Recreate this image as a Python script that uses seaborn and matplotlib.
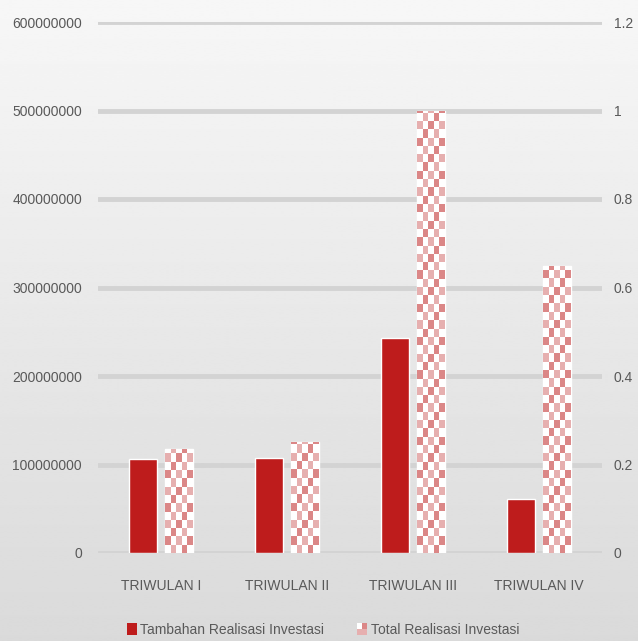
import numpy as np
import pandas as pd
import matplotlib
matplotlib.use('Agg')
import matplotlib.pyplot as plt
import seaborn as sns
from matplotlib.patches import Patch, Rectangle
from matplotlib.legend_handler import HandlerBase
from matplotlib.ticker import FuncFormatter

# ---------------- data ----------------
categories = ['TRIWULAN I', 'TRIWULAN II', 'TRIWULAN III', 'TRIWULAN IV']
tambahan = [106000000, 107000000, 243000000, 61000000]      # left axis
total = [0.235, 0.251, 1.0, 0.649]                          # right axis
series_names = ['Tambahan Realisasi Investasi', 'Total Realisasi Investasi']
left_ticks = [0, 100000000, 200000000, 300000000, 400000000, 500000000, 600000000]
right_ticks = [0, 0.2, 0.4, 0.6, 0.8, 1.0, 1.2]

# ---------------- style ----------------
sns.set_theme(style='white')
FONT = ['Liberation Sans', 'DejaVu Sans']
plt.rcParams['font.family'] = FONT
TXT = '#595959'
RED = '#BE1C1C'
DARK_PINK = '#DB8787'
LIGHT_PINK = '#E6AFAF'
FS = 10

W, H = 638, 641
fig = plt.figure(figsize=(W / 100, H / 100), dpi=100)

# background gradient
bg = fig.add_axes([0, 0, 1, 1], zorder=-10)
grad = np.linspace(0.968, 0.855, 256)[:, None]
bg.imshow(grad, cmap='gray', vmin=0, vmax=1, aspect='auto',
          extent=(0, 1, 0, 1), origin='upper', interpolation='bilinear')
bg.axis('off')

ax_l, ax_b, ax_w, ax_h = 98, 553, 504, 531
ax = fig.add_axes([ax_l / W, 1 - ax_b / H, ax_w / W, ax_h / H])
ax.patch.set_alpha(0)

scale = left_ticks[-1] / right_ticks[-1]
df = pd.DataFrame({
    'cat': categories * 2,
    'series': [series_names[0]] * len(categories) + [series_names[1]] * len(categories),
    'val': tambahan + [t * scale for t in total],
})
sns.barplot(data=df, x='cat', y='val', hue='series', hue_order=series_names,
            palette=[RED, 'white'], width=0.572, gap=0.224, saturation=1,
            errorbar=None, legend=False, ax=ax)

ax.set_xlim(-0.5, len(categories) - 0.5)
ax.set_ylim(left_ticks[0], left_ticks[-1])

# checker fill for total bars
cw_px, ch_px = 5.5, 8.3
sx = cw_px * len(categories) / ax_w
sy = ch_px * (left_ticks[-1] - left_ticks[0]) / ax_h
dark = np.array(matplotlib.colors.to_rgb(DARK_PINK))
light = np.array(matplotlib.colors.to_rgb(LIGHT_PINK))
white = np.array([1.0, 1.0, 1.0])
for p in ax.containers[1]:
    x0, h, w = p.get_x(), p.get_height(), p.get_width()
    ncol = int(np.ceil(w / sx)) + 1
    nrow = int(np.ceil(h / sy)) + 1
    arr = np.zeros((nrow, ncol, 3))
    for i in range(nrow):
        for j in range(ncol):
            if (i + j) % 2 == 0:
                arr[i, j] = white
            else:
                arr[i, j] = dark if (i - j) % 4 == 1 else light
    im = ax.imshow(arr, extent=(x0, x0 + ncol * sx, 0, nrow * sy), origin='lower',
                   interpolation='nearest', aspect='auto', zorder=2)
    im.set_clip_path(p)
ax.set_xlim(-0.5, len(categories) - 0.5)
ax.set_ylim(left_ticks[0], left_ticks[-1])

# axes styling
ax.set_yticks(left_ticks)
ax.yaxis.set_major_formatter(FuncFormatter(lambda v, _: f'{int(round(v))}'))
ax.grid(axis='y', color='#d3d3d3', linewidth=3.5)
ax.grid(axis='x', visible=False)
ax.set_axisbelow(True)
for s in ax.spines.values():
    s.set_visible(False)
ax.tick_params(axis='y', length=0, pad=11.5, labelsize=FS, labelcolor=TXT)
ax.tick_params(axis='x', length=0, pad=19, labelsize=FS, labelcolor=TXT)
ax.set_xlabel('')
ax.set_ylabel('')

ax2 = ax.twinx()
ax2.patch.set_visible(False)
ax2.set_ylim(right_ticks[0], right_ticks[-1])
ax2.set_yticks(right_ticks)
ax2.yaxis.set_major_formatter(FuncFormatter(lambda v, _: f'{v:g}'))
ax2.grid(False)
for s in ax2.spines.values():
    s.set_visible(False)
ax2.tick_params(axis='y', length=0, pad=8.6, labelsize=FS, labelcolor=TXT)


# legend
class CheckerHandler(HandlerBase):
    def create_artists(self, legend, orig_handle, xdescent, ydescent, width, height,
                       fontsize, trans):
        cw, ch = width / 2, height / 2
        cols = [[LIGHT_PINK, LIGHT_PINK], ['white', DARK_PINK]]
        arts = []
        for r in range(2):
            for c in range(2):
                arts.append(Rectangle((-xdescent + c * cw, -ydescent + r * ch), cw, ch,
                                      facecolor=cols[r][c], edgecolor='none',
                                      transform=trans))
        return arts


class CheckerKey:
    pass


handles = [Patch(facecolor=RED, edgecolor='none'), CheckerKey()]
fig.legend(handles, series_names, loc='center', bbox_to_anchor=(323 / W, 1 - 630 / H),
           ncol=2, frameon=False, fontsize=FS, handlelength=0.7, handleheight=0.95,
           handletextpad=0.25, columnspacing=2.4, labelcolor=TXT,
           handler_map={CheckerKey: CheckerHandler()})

fig.savefig('out.png', dpi=100)
